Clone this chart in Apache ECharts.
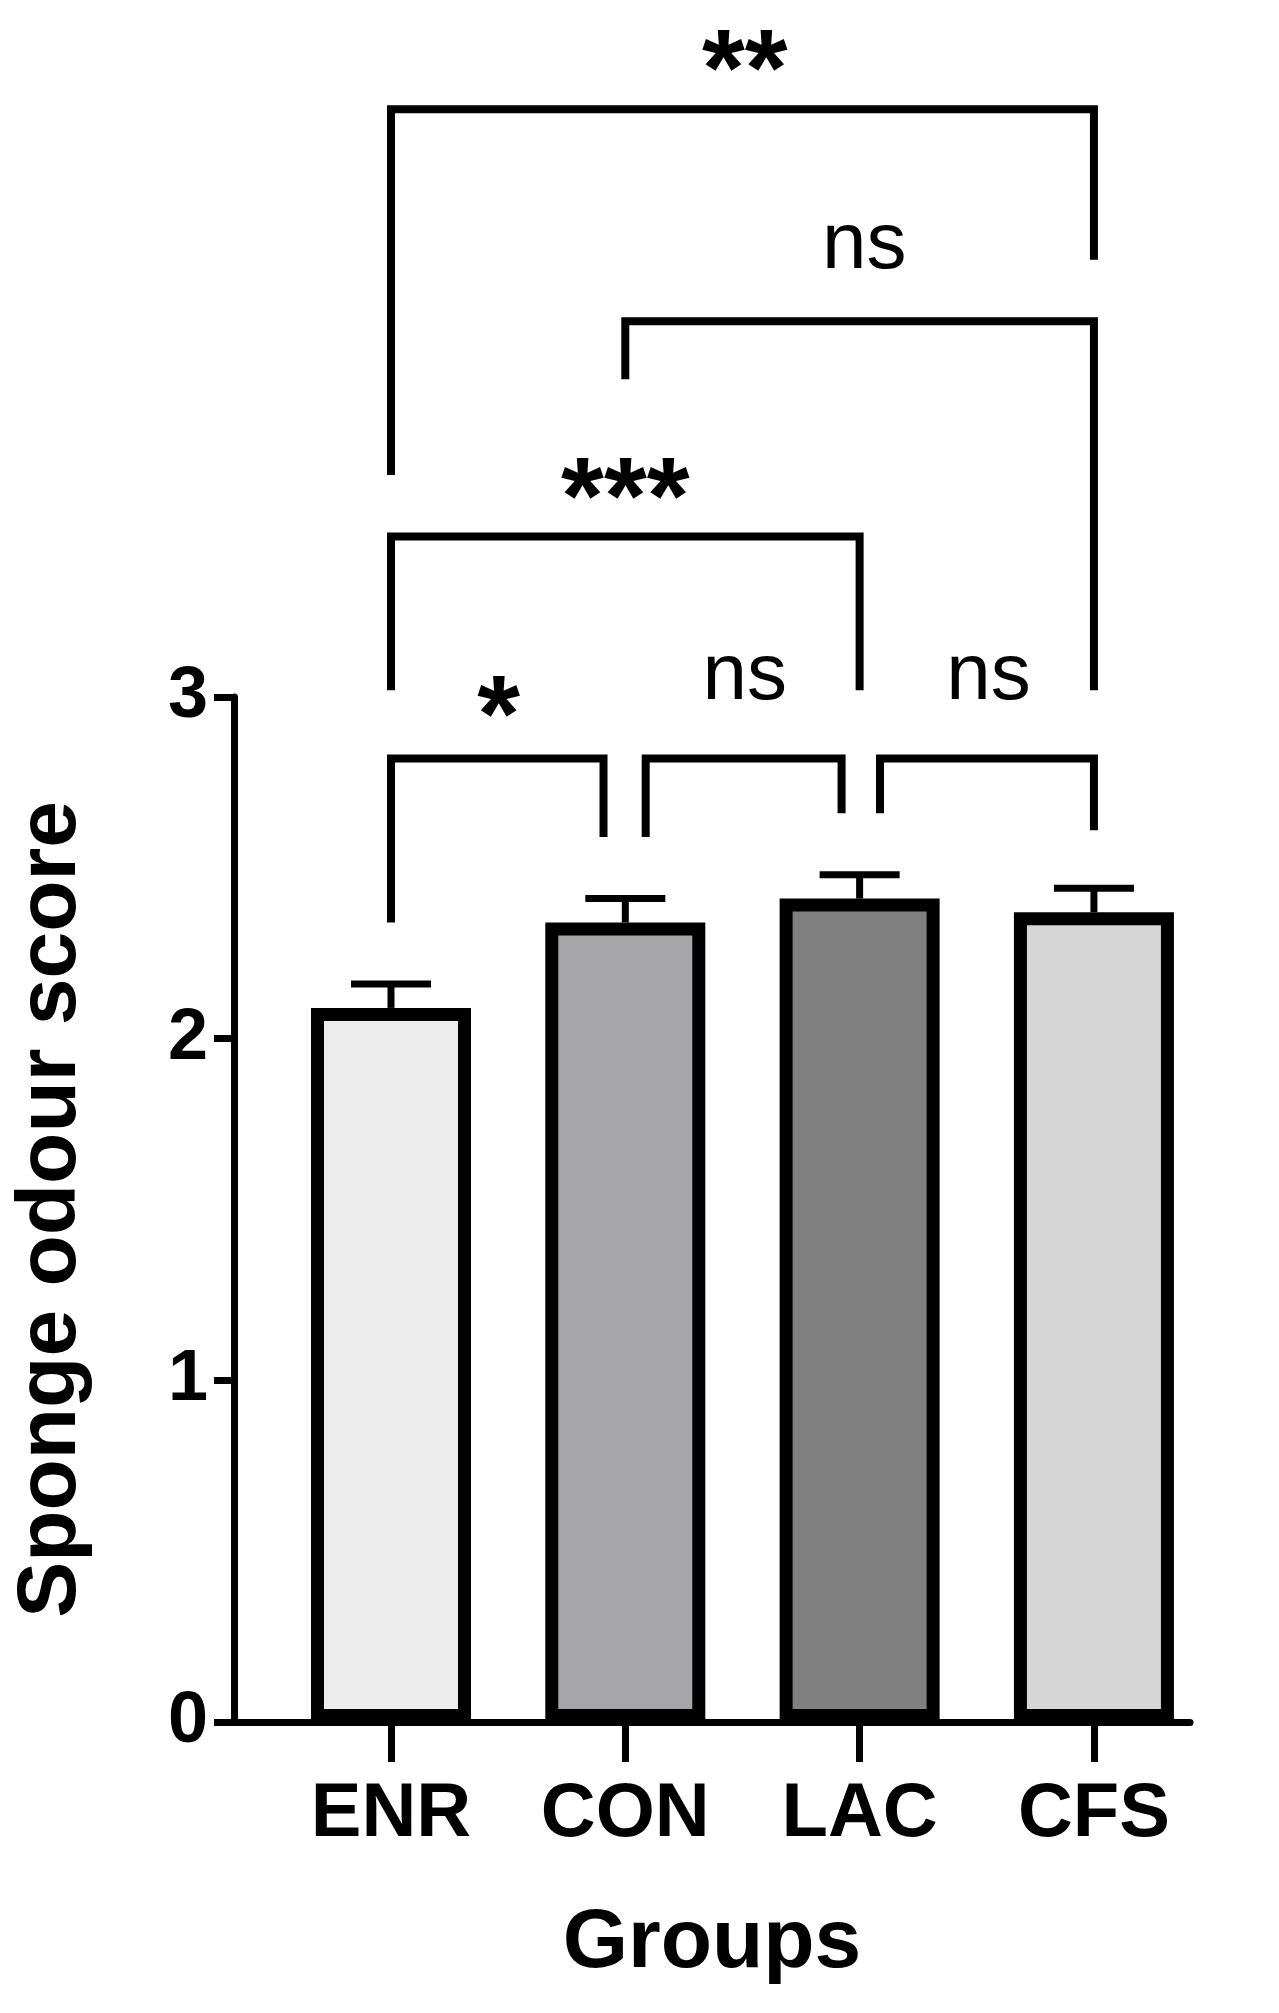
<!DOCTYPE html>
<html>
<head>
<meta charset="utf-8">
<script src="https://cdn.jsdelivr.net/npm/echarts@6/dist/echarts.min.js"></script>
<style>html,body{margin:0;background:#fff}#c{width:1279px;height:2013px}</style>
</head>
<body>
<div id="c"></div>
<script>
const groups = ['ENR', 'CON', 'LAC', 'CFS'];
const means = [2.09, 2.34, 2.41, 2.37];
const errs = [0.07, 0.07, 0.07, 0.07];
const colors = ['#ececec', '#a6a6a8', '#808080', '#d6d6d6'];
// bracket: [xLeft, xRight, yTop, yLeftEnd, yRightEnd]
const brackets = [
    [0, 0.907, 2.82, 2.34, 2.59],
    [1.087, 1.923, 2.82, 2.59, 2.66],
    [2.087, 3, 2.82, 2.66, 2.61],
    [0, 2, 3.47, 3.02, 3.02],
    [1, 3, 4.10, 3.93, 3.02],
    [0, 3, 4.72, 3.65, 4.28]
];
// label: [x, y, text]
const sigLabels = [
    [0.46, 2.93, '*'],
    [1.51, 3.06, 'ns'],
    [2.55, 3.06, 'ns'],
    [1.0, 3.57, '***'],
    [2.02, 4.32, 'ns'],
    [1.51, 4.82, '**']
];

const chart = echarts.init(document.getElementById('c'));
const font = 'Liberation Sans, Arial, sans-serif';

chart.setOption({
    animation: false,
    grid: { left: 234, right: 89, top: 697, bottom: 291 },
    xAxis: {
        type: 'value', min: -0.67, max: 3.41,
        splitLine: { show: false },
        axisLine: { onZero: false, lineStyle: { color: '#000', width: 7 } },
        axisTick: { customValues: [0, 1, 2, 3], length: 40, lineStyle: { color: '#000', width: 7 } },
        axisLabel: {
            customValues: [0, 1, 2, 3], formatter: v => groups[Math.round(v)],
            color: '#000', fontFamily: font, fontWeight: 'bold', fontSize: 76, margin: 55
        },
        name: 'Groups', nameLocation: 'middle', nameGap: 180,
        nameTextStyle: { color: '#000', fontFamily: font, fontWeight: 'bold', fontSize: 84 }
    },
    yAxis: {
        type: 'value', min: 0, max: 3, interval: 1,
        splitLine: { show: false },
        axisLine: { show: true, onZero: false, lineStyle: { color: '#000', width: 7 } },
        axisTick: { show: true, length: 20, lineStyle: { color: '#000', width: 7 } },
        axisLabel: { color: '#000', fontFamily: font, fontWeight: 'bold', fontSize: 72, margin: 26 },
        name: 'Sponge odour score', nameLocation: 'middle', nameGap: 140,
        nameTextStyle: { color: '#000', fontFamily: font, fontWeight: 'bold', fontSize: 84 }
    },
    series: [
        {
            type: 'bar', barWidth: 160,
            data: means.map((m, i) => ({
                value: [i, m],
                itemStyle: { color: colors[i], borderColor: '#000', borderWidth: 13 }
            }))
        },
        {
            type: 'custom', clip: false, z: 3,
            data: means.map((m, i) => [i, m, m + errs[i]]),
            renderItem: (params, api) => {
                const lo = api.coord([api.value(0), api.value(1)]);
                const hi = api.coord([api.value(0), api.value(2)]);
                const style = { stroke: '#000', lineWidth: 7 };
                return {
                    type: 'group', children: [
                        { type: 'line', shape: { x1: lo[0], y1: lo[1], x2: hi[0], y2: hi[1] }, style },
                        { type: 'line', shape: { x1: hi[0] - 40, y1: hi[1], x2: hi[0] + 40, y2: hi[1] }, style }
                    ]
                };
            }
        },
        {
            type: 'custom', clip: false,
            data: brackets,
            renderItem: (params, api) => {
                const x1 = api.value(0), x2 = api.value(1), yt = api.value(2);
                const pts = [
                    api.coord([x1, api.value(3)]), api.coord([x1, yt]),
                    api.coord([x2, yt]), api.coord([x2, api.value(4)])
                ];
                return { type: 'polyline', shape: { points: pts }, style: { stroke: '#000', lineWidth: 8, fill: null } };
            }
        },
        {
            type: 'custom', clip: false,
            data: sigLabels,
            renderItem: (params, api) => {
                const p = api.coord([api.value(0), api.value(1)]);
                const t = sigLabels[params.dataIndex][2];
                const star = t !== 'ns';
                return {
                    type: 'text', x: p[0], y: p[1],
                    style: {
                        text: t, fill: '#000', fontFamily: font,
                        fontSize: star ? 110 : 80, fontWeight: star ? 'bold' : 'normal',
                        align: 'center', verticalAlign: 'middle'
                    }
                };
            }
        }
    ]
});
</script>
</body>
</html>
